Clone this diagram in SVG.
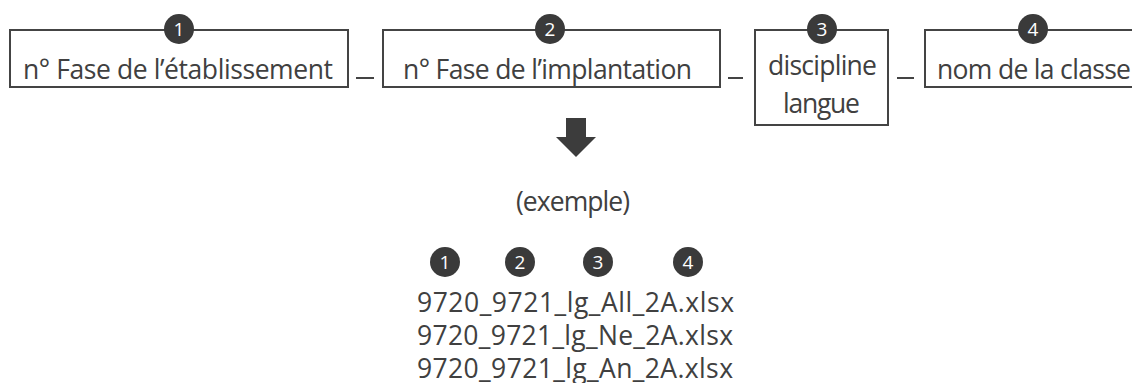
<svg xmlns="http://www.w3.org/2000/svg" width="1132" height="383" viewBox="0 0 1132 383">
  <style>
    .box { fill: #ffffff; stroke: #444444; stroke-width: 2; }
    .lbl { font-family: "Open Sans", "Noto Sans", sans-serif; font-size: 26.5px; fill: #404040; }
    .mid { text-anchor: middle; }
    .num { font-family: "Open Sans", "Noto Sans", sans-serif; font-size: 19px; fill: #ffffff; text-anchor: middle; }
    .badge { fill: #3a3a3a; }
    .dash { stroke: #444444; stroke-width: 2; }
  </style>
  <defs>
    <g id="badge"><circle class="badge" r="15"/></g>
  </defs>
  <rect width="1132" height="383" fill="#ffffff"/>

  <!-- connectors between the name parts -->
  <g id="connectors">
    <line class="dash" x1="356" y1="78" x2="374" y2="78"/>
    <line class="dash" x1="728" y1="78" x2="743" y2="78"/>
    <line class="dash" x1="897" y1="78" x2="914" y2="78"/>
    <!-- down arrow -->
    <path d="M566 118 H586 V137 H596 L576 157 L556 137 H566 Z" fill="#3c3c3c"/>
  </g>

  <g id="node1">
    <rect class="box" x="10" y="30" width="338" height="57"/>
    <use href="#badge" x="179" y="29"/>
    <text class="num" x="179" y="36">1</text>
    <text class="lbl" x="23" y="79" textLength="310">n° Fase de l’établissement</text>
  </g>

  <g id="node2">
    <rect class="box" x="383" y="30" width="337" height="57"/>
    <use href="#badge" x="550" y="29"/>
    <text class="num" x="550" y="36">2</text>
    <text class="lbl" x="403" y="79" textLength="289">n° Fase de l’implantation</text>
  </g>

  <g id="node3">
    <rect class="box" x="755" y="30" width="133" height="95"/>
    <use href="#badge" x="822" y="29"/>
    <text class="num" x="822" y="36">3</text>
    <text class="lbl" x="768" y="75" textLength="109">discipline</text>
    <text class="lbl" x="783" y="113" textLength="77">langue</text>
  </g>

  <g id="node4">
    <rect class="box" x="925" y="30" width="220" height="57"/>
    <use href="#badge" x="1033" y="29"/>
    <text class="num" x="1033" y="36">4</text>
    <text class="lbl" x="937" y="79" textLength="194">nom de la classe</text>
  </g>

  <g id="example">
    <text class="lbl" x="516" y="211" textLength="114">(exemple)</text>
    <use href="#badge" x="445" y="262"/>
    <text class="num" x="445" y="269">1</text>
    <use href="#badge" x="520" y="262"/>
    <text class="num" x="520" y="269">2</text>
    <use href="#badge" x="598" y="262"/>
    <text class="num" x="598" y="269">3</text>
    <use href="#badge" x="688" y="262"/>
    <text class="num" x="688" y="269">4</text>
    <text class="lbl" x="417" y="312" textLength="317">9720_9721_lg_All_2A.xlsx</text>
    <text class="lbl" x="417" y="345" textLength="316">9720_9721_lg_Ne_2A.xlsx</text>
    <text class="lbl" x="417" y="378" textLength="316">9720_9721_lg_An_2A.xlsx</text>
  </g>
</svg>
